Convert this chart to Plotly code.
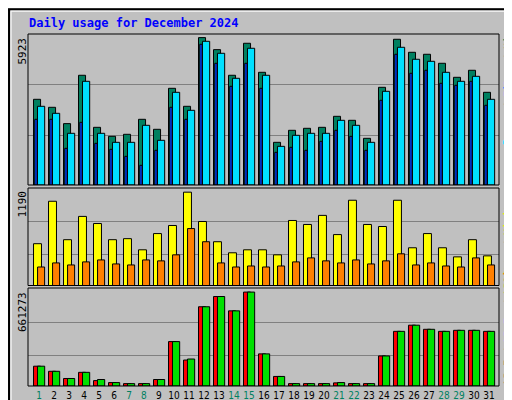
import plotly.graph_objects as go

days = list(range(1, 32))
weekend = [1, 7, 8, 14, 15, 21, 22, 28, 29]

hits = [3444, 3122, 2466, 4409, 2318, 1956, 2037, 2640, 2238, 3886, 3162, 5923, 5440, 4409, 5695, 4529,
        1715, 2198, 2278, 2318, 2760, 2600, 1876, 3926, 5856, 5333, 5253, 4891, 4328, 4610, 3725]
files = [3162, 2881, 2077, 4167, 2077, 1715, 1715, 2399, 1796, 3725, 3002, 5775, 5293, 4288, 5494, 4409,
         1554, 1997, 2077, 2077, 2600, 2399, 1715, 3765, 5534, 5052, 4971, 4529, 4167, 4368, 3444]
pages = [2640, 2640, 1474, 2519, 1675, 1434, 1152, 791, 1394, 3122, 2640, 5655, 4891, 3966, 4891, 3886,
         1313, 1514, 1394, 1755, 2198, 1956, 1394, 3404, 5253, 4489, 4610, 4087, 4007, 4167, 3203]
visits = [533, 1074, 584, 881, 790, 584, 597, 455, 662, 765, 1190, 816, 558, 417, 455, 455,
          391, 829, 778, 894, 649, 1087, 778, 752, 1087, 481, 662, 481, 365, 584, 378]
sites = [236, 288, 262, 301, 326, 275, 262, 326, 314, 391, 726, 558, 288, 236, 249, 236,
         249, 301, 352, 314, 288, 326, 275, 314, 404, 262, 288, 249, 236, 352, 262]
kb_out = [139490, 103415, 52910, 96200, 45695, 24050, 16835, 16835, 45695, 312650, 189995, 557960,
          630110, 529100, 661273, 226070, 67340, 16835, 16835, 16835, 24050, 16835, 16835, 211640,
          384800, 428090, 399230, 384800, 392015, 392015, 384800]
kb_f = [139490, 103415, 52910, 96200, 38000, 24050, 16835, 16835, 45695, 312650, 182780, 557960,
        630110, 529100, 661273, 226070, 67340, 16835, 16835, 16835, 22000, 16835, 16835, 211640,
        384800, 428090, 399230, 384800, 392015, 392015, 384800]

line = dict(color="black", width=1)


def bar(y, color, center, width, axis):
    return go.Bar(x=days, y=y, marker=dict(color=color, line=line), width=width,
                  offset=center - width / 2, xaxis="x" + axis, yaxis="y" + axis,
                  showlegend=False, hoverinfo="skip")


fig = go.Figure()
fig.add_trace(bar(hits, "#008060", -0.13, 0.47, ""))
fig.add_trace(bar(pages, "#0040ff", -0.2, 0.16, ""))
fig.add_trace(bar(files, "#00e0ff", 0.14, 0.48, ""))
fig.add_trace(bar(visits, "#ffff00", -0.1, 0.53, "2"))
fig.add_trace(bar(sites, "#ff8000", 0.14, 0.47, "2"))
fig.add_trace(bar(kb_f, "#ff0000", -0.13, 0.47, "3"))
fig.add_trace(bar(kb_out, "#00e000", 0.14, 0.48, "3"))

ticktext = ["<span style='color:#008060'>%d</span>" % d if d in weekend else str(d) for d in days]
xr = [0.267, 31.67]
xdom = [20 / 512, 491 / 512]
grid = dict(showgrid=True, gridcolor="#808080", gridwidth=1, showticklabels=False, zeroline=False, ticks="")
fig.update_layout(
    width=512, height=400, margin=dict(l=0, r=0, t=0, b=0),
    paper_bgcolor="#c0c0c0", plot_bgcolor="#c0c0c0", barmode="overlay",
    font=dict(family="DejaVu Sans Mono", size=11, color="black"),
    xaxis=dict(range=xr, domain=xdom, showticklabels=False, showgrid=False, anchor="y"),
    xaxis2=dict(range=xr, domain=xdom, showticklabels=False, showgrid=False, anchor="y2"),
    xaxis3=dict(range=xr, domain=xdom, showgrid=False, anchor="y3", tickvals=days, ticktext=ticktext,
                tickfont=dict(family="DejaVu Sans Condensed", size=10), ticks="", tickangle=0,
                ticklabelstandoff=2),
    yaxis=dict(domain=[1 - 177 / 400, 1 - 26 / 400], range=[0, 6068], tickvals=[1997, 4046], **grid),
    yaxis2=dict(domain=[1 - 277.5 / 400, 1 - 180 / 400], range=[0, 1243], tickvals=[400, 821], **grid),
    yaxis3=dict(domain=[1 - 378 / 400, 1 - 280 / 400], range=[0, 690000], tickvals=[212000, 450000], **grid),
)

# panel frames and outer frame
for top, bot in [(26, 177), (180, 277.5), (280, 378)]:
    fig.add_shape(type="rect", xref="paper", yref="paper", x0=20 / 512, x1=491 / 512,
                  y0=1 - bot / 400, y1=1 - top / 400, line=dict(color="black", width=1))
fig.add_shape(type="rect", xref="paper", yref="paper", x0=0.002, x1=0.998, y0=0.003, y1=0.997,
              line=dict(color="black", width=2))
fig.add_shape(type="rect", xref="paper", yref="paper", x0=0.006, x1=0.990, y0=0.012, y1=0.992,
              line=dict(color="white", width=1))

fig.add_annotation(text="<b>Daily usage for December 2024</b>", x=19 / 512, y=1 - 15 / 400,
                   xref="paper", yref="paper", xanchor="left", yanchor="middle", showarrow=False,
                   font=dict(color="#0000ff", size=12))
for txt, ytop in [("5923", 28), ("1190", 181), ("661273", 282)]:
    fig.add_annotation(text=txt, x=14 / 512, y=1 - ytop / 400, xref="paper", yref="paper",
                       xanchor="center", yanchor="top", textangle=-90, showarrow=False,
                       font=dict(size=11))

# right-side vertical legends, written bottom to top
right = [
    (137, [("Pages", "#00e0ff"), ("/", "#606060"), ("Files", "#0080ff"), ("/", "#606060"), ("Hits", "#008060")]),
    (275, [("Sites", "#ff8000"), ("/", "#606060"), ("Visits", "#ffff00")]),
    (376, [("kB F", "#ff0000"), ("/", "#606060"), ("kB In", "#0080ff"), ("/", "#606060"), ("kB Out", "#00e000")]),
]
cw = 6.0
for ybot, parts in right:
    y = ybot
    for word, col in parts:
        h = len(word) * cw
        fig.add_annotation(text="<b>%s</b>" % word, x=500 / 512, y=1 - (y - h / 2) / 400,
                           xref="paper", yref="paper", xanchor="center", yanchor="middle",
                           textangle=-90, showarrow=False, font=dict(size=10, color=col))
        y -= h + cw

fig.write_html("out.html")
